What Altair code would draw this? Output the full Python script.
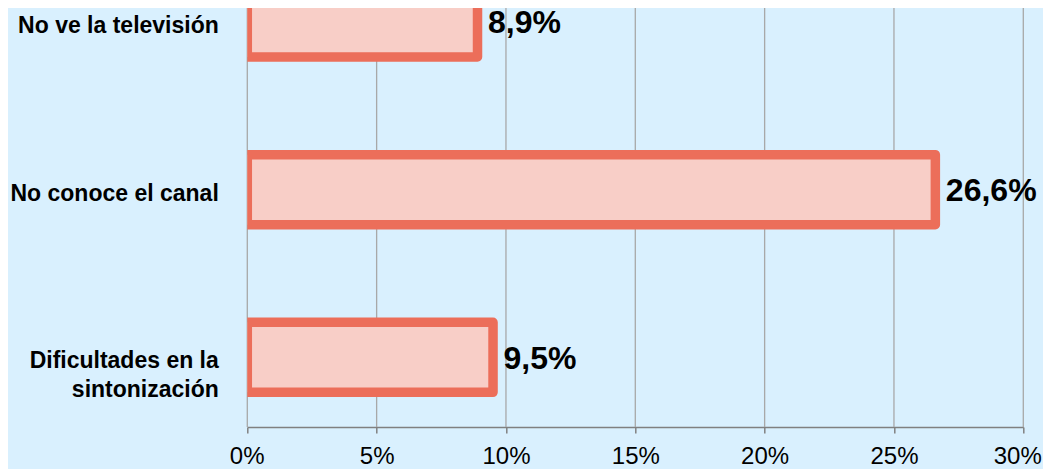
import altair as alt
import pandas as pd

categories = ["No ve la televisión", "No conoce el canal", "Dificultades en la|sintonización"]
values = [8.9, 26.6, 9.5]
tick_values = [0, 5, 10, 15, 20, 25, 30]

labels = [f"{v:.1f}".replace(".", ",") + "%" for v in values]
df = pd.DataFrame({"cat": categories, "val": values, "label": labels})
grid_df = pd.DataFrame({"val": tick_values})

FONT = "Liberation Sans"
BG = "#D9F0FE"

x_scale = alt.Scale(domain=[0, 30], nice=False, zero=True)

y_enc = alt.Y(
    "cat:N",
    sort=categories,
    title=None,
    scale=alt.Scale(range=[-13, 392.3], paddingInner=0.5825, paddingOuter=0),
    axis=alt.Axis(
        domain=False, ticks=False, tickSize=0, grid=False,
        labelPadding=29, labelFont=FONT, labelFontSize=23, labelFontWeight="bold",
        labelColor="black", labelExpr="split(datum.label, '|')",
        labelLineHeight=29, labelLimit=400, labelOffset=4,
    ),
)

x_axis = alt.Axis(
    values=tick_values, labelExpr="datum.value + '%'",
    grid=False,
    domainColor="#808080", domainWidth=1.5,
    tickColor="#808080", tickWidth=1.5, tickSize=6,
    labelFont=FONT, labelFontSize=24, labelColor="black", labelPadding=11,
    labelFlush=True, labelFlushOffset=18,
)

x_enc = alt.X("val:Q", title=None, scale=x_scale, axis=x_axis)

grid = alt.Chart(grid_df).mark_rule(color="#A8A8A8", strokeWidth=1.3).encode(x=x_enc)

base = alt.Chart(df).encode(x=x_enc, y=y_enc)

bars = base.mark_bar(
    fill="#F8CEC7", stroke="#EC6E5A", strokeWidth=9.5, strokeJoin="round", clip=True
)

text = base.mark_text(
    align="left", baseline="middle", dx=10.5, dy=1.5,
    font=FONT, fontSize=32, fontWeight="bold", color="black",
).encode(text="label:N")

chart = (
    alt.layer(grid, bars, text)
    .properties(
        width=776,
        height=427,
        padding={"left": 239.3, "top": -8, "right": 19.7, "bottom": 42},
        autosize=alt.AutoSizeParams(type="none"),
        background=BG,
    )
    .configure_view(stroke=None, fill=BG)
)

chart.save("out.html", embed_options={"renderer": "svg", "actions": False})
